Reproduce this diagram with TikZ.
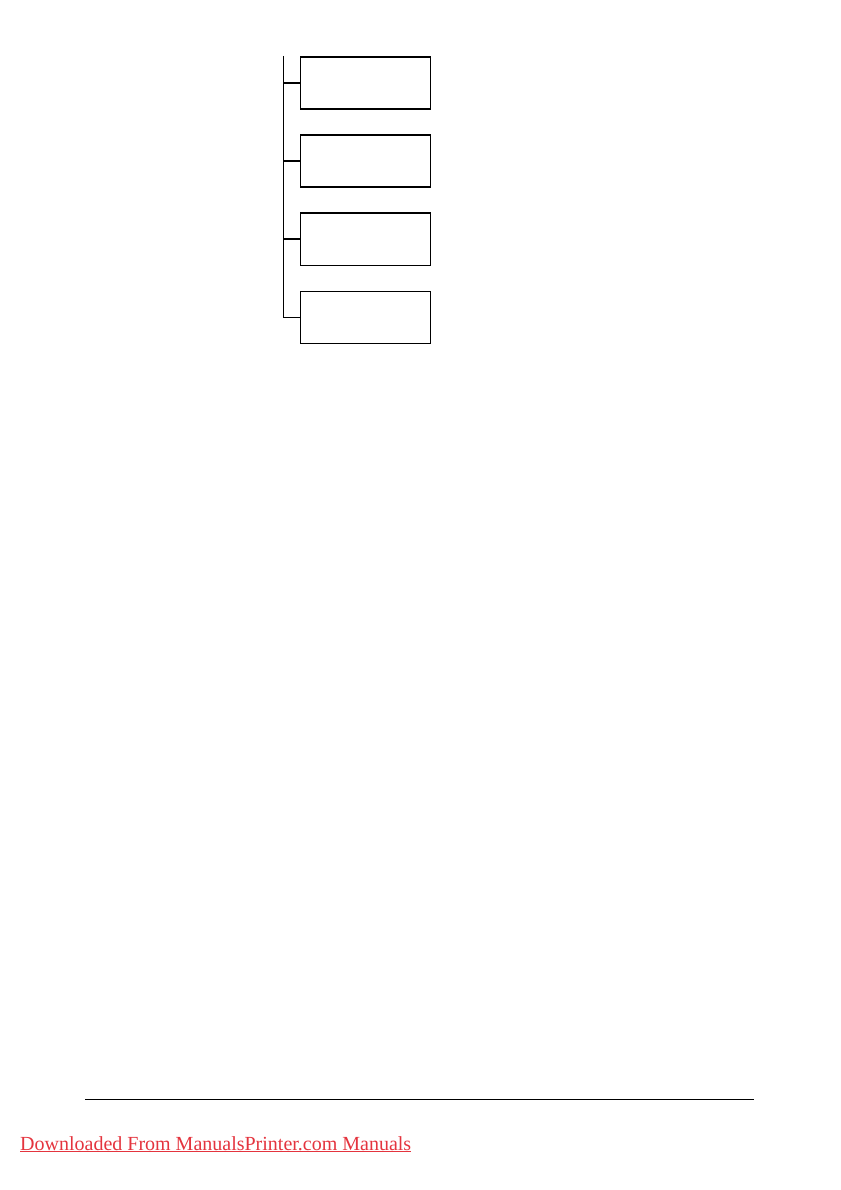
\documentclass[tikz,border=0pt]{standalone}
\usepackage{fontspec}
\setmainfont{Liberation Serif}
\definecolor{linkred}{RGB}{228,52,62}
\begin{document}
\begin{tikzpicture}[x=1pt,y=-1pt,
  menubox/.style={draw,line width=1.2pt,minimum width=130pt,minimum height=52pt,inner sep=0pt,anchor=north west},
  tree/.style={line width=1.2pt}]
\useasboundingbox (0,0) rectangle (840,1190);
\node[menubox] (b1) at (300,56.5) {};
\node[menubox] (b2) at (300,134.5) {};
\node[menubox] (b3) at (300,212.5) {};
\node[menubox] (b4) at (300,290.5) {};
\coordinate (top) at (283.5,56);
\coordinate (bot) at (283.5,316);
\draw[tree] (top) -- (bot |- b4.west) -- (b4.west);
\draw[tree] (top |- b1.west) -- (b1.west);
\draw[tree] (top |- b2.west) -- (b2.west);
\draw[tree] (top |- b3.west) -- (b3.west);
\coordinate (rl) at (85,1099.5);
\coordinate (rr) at (754,1099.5);
\draw[line width=1.2pt] (rl) -- (rr);
\node[anchor=base west,inner sep=0pt,text=linkred,font=\fontsize{20}{24}\selectfont] (dl) at (20,1150) {\underline{Downloaded From ManualsPrinter.com Manuals}};
\end{tikzpicture}
\end{document}
